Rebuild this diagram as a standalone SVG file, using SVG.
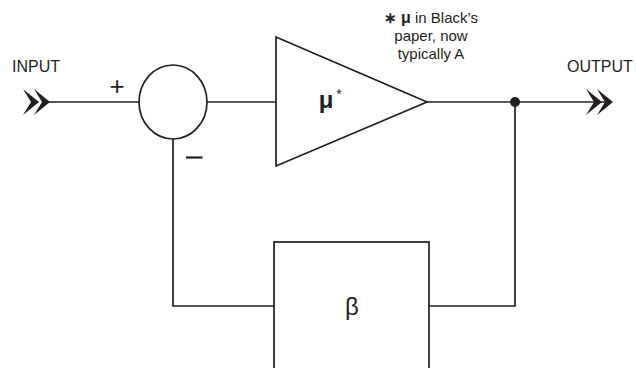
<svg xmlns="http://www.w3.org/2000/svg" width="636" height="368" viewBox="0 0 636 368">
<defs>
<style>
.ln{stroke:#231f20;stroke-width:1.7;fill:none}
.sh{stroke:#231f20;stroke-width:1.7;fill:#fff}
.t{font-family:"Liberation Sans",Arial,sans-serif;fill:#231f20}
</style>
<g id="chev">
<path d="M-27,-13 L-11,0 L-27,13 L-19,0 Z M-16,-13 L0,0 L-16,13 L-8,0 Z" fill="#231f20"/>
</g>
</defs>
<rect width="636" height="368" fill="#fff"/>
<g id="connectors">
<line class="ln" x1="48" y1="102" x2="139" y2="102"/>
<line class="ln" x1="207" y1="102" x2="276" y2="102"/>
<line class="ln" x1="427" y1="102" x2="608" y2="102"/>
<polyline class="ln" points="173,139 173,306 274,306"/>
<polyline class="ln" points="429,306 515,306 515,102"/>
<circle cx="515" cy="102" r="5" fill="#231f20"/>
</g>
<g id="input">
<use href="#chev" x="50" y="102"/>
<text class="t" x="12" y="72" font-size="16">INPUT</text>
</g>
<g id="output">
<use href="#chev" x="613" y="102"/>
<text class="t" x="567" y="72" font-size="16">OUTPUT</text>
</g>
<g id="summer">
<ellipse class="sh" cx="173" cy="102" rx="34" ry="37"/>
<text class="t" x="117" y="95" font-size="26" text-anchor="middle">+</text>
<line x1="186" y1="157.5" x2="202.5" y2="157.5" stroke="#231f20" stroke-width="2.2"/>
</g>
<g id="amplifier">
<polygon class="sh" points="276,37 276,166 427,102"/>
<text class="t" x="326" y="108" font-size="24" font-weight="bold" text-anchor="middle">μ</text>
<text class="t" x="339" y="99" font-size="14" text-anchor="middle">*</text>
</g>
<g id="note">
<text class="t" font-size="15" text-anchor="middle"><tspan x="431" y="23"><tspan font-weight="bold" font-size="15">∗</tspan> <tspan font-weight="bold" font-size="16">μ</tspan> in Black’s</tspan><tspan x="431" y="41">paper, now</tspan><tspan x="431" y="59">typically A</tspan></text>
</g>
<g id="beta">
<rect class="sh" x="274" y="242" width="155" height="140"/>
<text class="t" x="352" y="315" font-size="24" text-anchor="middle">β</text>
</g>
</svg>
